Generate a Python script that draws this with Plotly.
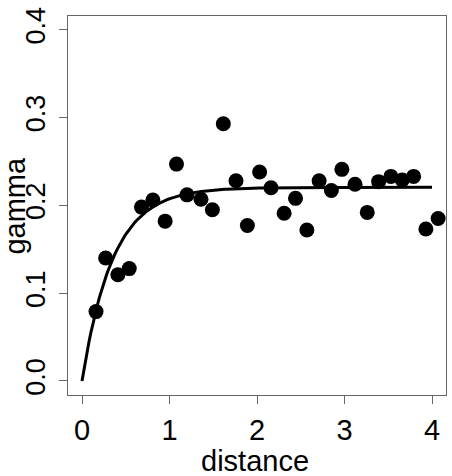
import numpy as np
import plotly.graph_objects as go

distance = [0.16, 0.27, 0.41, 0.54, 0.68, 0.81, 0.95, 1.08, 1.20, 1.36, 1.49, 1.615,
            1.76, 1.89, 2.03, 2.16, 2.31, 2.44, 2.57, 2.71, 2.85, 2.97, 3.12, 3.26,
            3.39, 3.53, 3.66, 3.79, 3.93, 4.07]
gamma = [0.079, 0.140, 0.121, 0.128, 0.198, 0.206, 0.182, 0.247, 0.212, 0.207, 0.195, 0.293,
         0.228, 0.177, 0.238, 0.220, 0.191, 0.208, 0.172, 0.228, 0.217, 0.241, 0.224, 0.192,
         0.227, 0.233, 0.229, 0.233, 0.173, 0.185]

# exponential model fit
sill = 0.2205
rng = 0.353
d_line = np.linspace(0, 4, 200)
g_line = sill * (1 - np.exp(-d_line / rng))

x_ticks = [0, 1, 2, 3, 4]
y_ticks = [0.0, 0.1, 0.2, 0.3, 0.4]
y_ticktext = ["0.0", "0.1", "0.2", "0.3", "0.4"]
x_title = "distance"
y_title = "gamma"

fig = go.Figure()
fig.add_trace(go.Scatter(x=d_line, y=g_line, mode="lines",
                         line=dict(color="black", width=3), hoverinfo="skip"))
fig.add_trace(go.Scatter(x=distance, y=gamma, mode="markers",
                         marker=dict(color="black", size=15, line=dict(width=0))))

fam = "Liberation Sans, Arial, sans-serif"
xtick_font = dict(family=fam, color="black", size=29)
xtitle_font = dict(family=fam, color="black", size=29)
ytick_font = dict(family=fam, color="black", size=27)
ytitle_font = dict(family=fam, color="black", size=29)
fig.update_layout(
    width=452, height=476,
    margin=dict(l=68, r=6, t=16, b=81),
    paper_bgcolor="white", plot_bgcolor="white",
    showlegend=False,
    font=dict(family=fam, color="black"),
    xaxis=dict(range=[-0.16, 4.16], tickvals=x_ticks, ticks="outside", ticklen=8,
               tickcolor="#666", tickwidth=1.3, showline=True, linecolor="#666", linewidth=1.3,
               mirror=True, showgrid=False, zeroline=False, tickfont=xtick_font,
               ticklabelstandoff=1, automargin=False),
    yaxis=dict(range=[-0.016, 0.4157], tickvals=y_ticks, ticktext=y_ticktext, ticks="outside",
               ticklen=8, tickcolor="#666", tickwidth=1.3, showline=True, linecolor="#666",
               linewidth=1.3, mirror=True, showgrid=False, zeroline=False, tickfont=ytick_font,
               tickangle=-90, ticklabelstandoff=3, automargin=False),
    annotations=[
        dict(text=x_title, xref="paper", yref="paper", x=0.495, y=-0.174,
             xanchor="center", yanchor="middle", showarrow=False, font=xtitle_font),
        dict(text=y_title, xref="paper", yref="paper", x=-0.141, y=0.499,
             xanchor="center", yanchor="middle", showarrow=False, textangle=-90,
             font=ytitle_font, borderpad=0),
    ],
)
fig.write_html("out.html")
